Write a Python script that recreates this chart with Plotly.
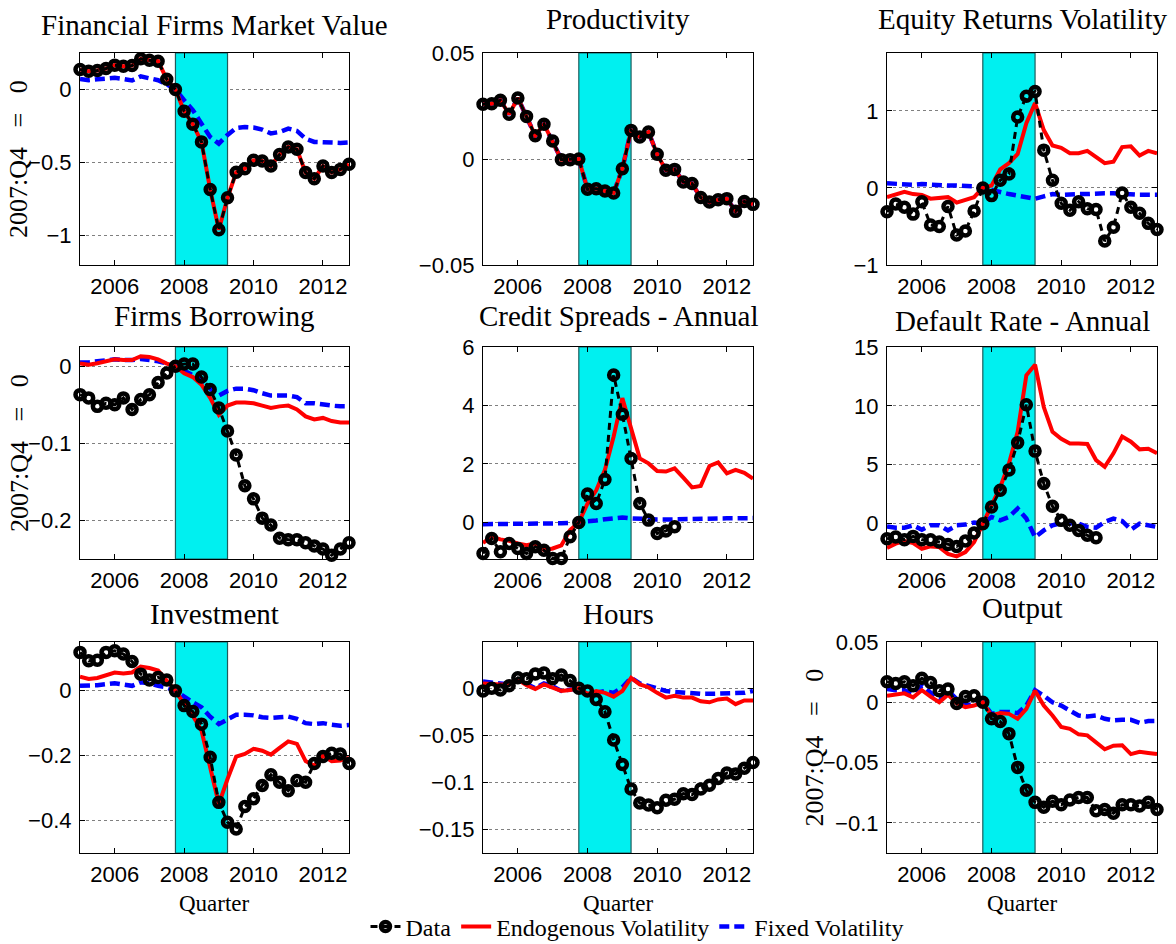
import plotly.graph_objects as go

# ---------------- data ----------------
quarters = [2005.0, 2005.25, 2005.5, 2005.75, 2006.0, 2006.25, 2006.5, 2006.75,
            2007.0, 2007.25, 2007.5, 2007.75, 2008.0, 2008.25, 2008.5, 2008.75,
            2009.0, 2009.25, 2009.5, 2009.75, 2010.0, 2010.25, 2010.5, 2010.75,
            2011.0, 2011.25, 2011.5, 2011.75, 2012.0, 2012.25, 2012.5, 2012.75]

recession_start = 2007.75
recession_end = 2009.25

fin_data = [0.137, 0.126, 0.13, 0.144, 0.167, 0.16, 0.164, 0.21, 0.2, 0.194, 0.07, 0.0,
            -0.148, -0.237, -0.358, -0.683, -0.959, -0.74, -0.566, -0.541, -0.484, -0.489,
            -0.523, -0.445, -0.393, -0.409, -0.568, -0.61, -0.523, -0.568, -0.546, -0.511]
fin_endo = list(fin_data)
fin_fixed = [0.073, 0.064, 0.07, 0.075, 0.08, 0.072, 0.062, 0.09, 0.08, 0.064, 0.036, 0.0,
             -0.073, -0.14, -0.233, -0.324, -0.37, -0.31, -0.263, -0.256, -0.26, -0.274,
             -0.3, -0.29, -0.267, -0.283, -0.336, -0.358, -0.36, -0.365, -0.365, -0.362]

prod_data = [0.0258, 0.0261, 0.0277, 0.0211, 0.0288, 0.0201, 0.011, 0.0164, 0.0085, -0.0003,
             -0.0003, 0.0, -0.0143, -0.014, -0.0151, -0.016, -0.0046, 0.0135, 0.0104, 0.0127,
             0.0022, -0.0053, -0.0049, -0.0108, -0.0116, -0.0182, -0.0203, -0.0192, -0.0187,
             -0.0247, -0.02, -0.0214]
prod_endo = list(prod_data)
prod_fixed = list(prod_data)

eqv_data = [-0.31, -0.21, -0.25, -0.34, -0.18, -0.48, -0.5, -0.24, -0.61, -0.56, -0.3, 0.0,
            -0.1, 0.1, 0.18, 0.92, 1.19, 1.25, 0.49, 0.1, -0.2, -0.29, -0.18, -0.27, -0.28,
            -0.69, -0.51, -0.065, -0.25, -0.33, -0.46, -0.54]
eqv_endo = [-0.12, -0.08, -0.05, -0.08, -0.09, -0.14, -0.13, -0.12, -0.19, -0.16, -0.12, 0.0,
            0.03, 0.24, 0.32, 0.44, 0.84, 1.1, 0.75, 0.55, 0.52, 0.45, 0.45, 0.48, 0.4, 0.32,
            0.34, 0.53, 0.54, 0.42, 0.48, 0.45]
eqv_fixed = [0.06, 0.05, 0.05, 0.04, 0.05, 0.04, 0.04, 0.03, 0.03, 0.03, 0.02, 0.0, -0.03,
             -0.06, -0.08, -0.1, -0.12, -0.14, -0.11, -0.08, -0.09, -0.08, -0.08, -0.08, -0.07,
             -0.07, -0.07, -0.08, -0.08, -0.09, -0.09, -0.09]

bor_data = [-0.0368, -0.041, -0.052, -0.048, -0.05, -0.041, -0.056, -0.043, -0.037, -0.021,
            -0.0087, 0.0, 0.003, 0.003, -0.014, -0.03, -0.054, -0.084, -0.115, -0.155, -0.172,
            -0.197, -0.206, -0.223, -0.225, -0.225, -0.229, -0.233, -0.237, -0.245, -0.237, -0.229]
bor_endo = [0.0035, 0.002, 0.004, 0.006, 0.009, 0.008, 0.008, 0.013, 0.012, 0.009, 0.0035, 0.0,
            -0.009, -0.014, -0.024, -0.041, -0.063, -0.051, -0.047, -0.047, -0.048, -0.051,
            -0.054, -0.052, -0.051, -0.056, -0.065, -0.069, -0.067, -0.071, -0.073, -0.073]
bor_fixed = [0.005, 0.005, 0.0065, 0.008, 0.009, 0.008, 0.008, 0.0095, 0.008, 0.0065, 0.0035,
             0.0, -0.0056, -0.012, -0.018, -0.029, -0.038, -0.032, -0.029, -0.029, -0.031,
             -0.035, -0.038, -0.038, -0.038, -0.04, -0.048, -0.048, -0.05, -0.051, -0.052, -0.052]

cs_data = [-1.06, -0.55, -1.0, -0.72, -0.89, -1.06, -0.83, -0.95, -1.23, -1.23, -0.49, 0.0,
           0.97, 0.65, 1.47, 5.04, 3.7, 2.19, 0.65, 0.08, -0.38, -0.29, -0.15,
           None, None, None, None, None, None, None, None, None]
cs_endo = [-0.70, -0.49, -0.58, -0.63, -0.72, -0.78, -0.72, -0.95, -0.89, -0.78, -0.26, 0.0,
           0.65, 1.1, 1.8, 2.94, 4.25, 3.17, 2.19, 2.02, 1.76, 1.74, 1.85, 1.53, 1.2, 1.25,
           1.93, 2.05, 1.68, 1.8, 1.7, 1.5]
cs_fixed = [-0.06, -0.06, -0.06, -0.05, -0.05, -0.05, -0.05, -0.04, -0.04, -0.03, -0.02, 0.0,
            0.03, 0.07, 0.11, 0.15, 0.17, 0.14, 0.12, 0.1, 0.1, 0.1, 0.11, 0.12, 0.12, 0.13,
            0.13, 0.14, 0.14, 0.14, 0.15, 0.15]

dr_data = [-1.28, -1.14, -1.36, -1.08, -1.36, -1.36, -1.56, -1.76, -1.93, -1.48, -0.8, 0.0,
           1.42, 2.84, 4.55, 6.88, 10.1, 6.16, 3.41, 1.48, 0.28, -0.14, -0.57, -0.99, -1.19,
           None, None, None, None, None, None, None]
dr_endo = [-2.07, -1.7, -1.48, -1.65, -2.13, -1.93, -1.99, -2.56, -2.78, -2.41, -1.56, 0.0,
           1.7, 3.1, 5.1, 7.8, 12.6, 13.5, 9.9, 7.8, 7.2, 6.8, 6.8, 6.76, 5.4, 4.83, 5.97,
           7.39, 6.96, 6.31, 6.36, 5.97]
dr_fixed = [-0.23, -0.34, -0.34, -0.14, -0.51, -0.14, -0.14, -0.57, -0.14, -0.08, 0.1, 0.0,
            0.57, 0.28, 0.57, 1.28, 0.43, -1.14, -0.57, -0.14, 0.06, 0.06, 0.0, -0.28, -0.34,
            0.14, 0.43, 0.23, -0.51, 0.0, -0.14, -0.28]

inv_data = [0.118, 0.092, 0.094, 0.118, 0.123, 0.113, 0.09, 0.051, 0.033, 0.041, 0.033, 0.0,
            -0.046, -0.064, -0.103, -0.205, -0.344, -0.405, -0.426, -0.357, -0.333, -0.292,
            -0.259, -0.282, -0.308, -0.277, -0.282, -0.224, -0.203, -0.193, -0.195, -0.224]
inv_endo = [0.043, 0.036, 0.039, 0.046, 0.056, 0.053, 0.056, 0.074, 0.07, 0.062, 0.033, 0.0,
            -0.041, -0.077, -0.123, -0.236, -0.349, -0.272, -0.203, -0.195, -0.179, -0.185,
            -0.197, -0.176, -0.156, -0.164, -0.217, -0.231, -0.2, -0.217, -0.215, -0.207]
inv_fixed = [0.015, 0.015, 0.017, 0.02, 0.023, 0.019, 0.015, 0.026, 0.023, 0.015, 0.01, 0.0,
             -0.02, -0.036, -0.051, -0.08, -0.103, -0.087, -0.074, -0.074, -0.076, -0.082,
             -0.084, -0.082, -0.08, -0.087, -0.1, -0.103, -0.1, -0.105, -0.108, -0.106]

hrs_data = [-0.003, 0.0, -0.002, 0.0025, 0.011, 0.01, 0.015, 0.016, 0.01, 0.014, 0.008, 0.0,
            -0.003, -0.012, -0.025, -0.055, -0.081, -0.107, -0.122, -0.124, -0.127, -0.119,
            -0.118, -0.112, -0.113, -0.107, -0.103, -0.096, -0.09, -0.091, -0.085, -0.079]
hrs_endo = [0.005, 0.004, 0.004, 0.004, 0.009, 0.003, -0.001, 0.004, 0.001, -0.003, -0.002, 0.0,
            -0.006, -0.003, -0.005, -0.009, -0.003, 0.011, 0.004, 0.001, -0.005, -0.01, -0.008,
            -0.01, -0.01, -0.014, -0.015, -0.012, -0.011, -0.017, -0.013, -0.013]
hrs_fixed = [0.007, 0.006, 0.005, 0.004, 0.009, 0.004, 0.0, 0.005, 0.002, -0.003, -0.001, 0.0,
             -0.007, -0.005, -0.003, -0.005, 0.001, 0.011, 0.005, 0.0025, 0.0, -0.003, -0.004,
             -0.005, -0.005, -0.006, -0.006, -0.006, -0.005, -0.005, -0.005, -0.003]

out_data = [0.017, 0.0156, 0.017, 0.0137, 0.02, 0.0164, 0.0096, 0.011, -0.001, 0.0047, 0.0055,
            0.0, -0.0137, -0.0159, -0.026, -0.054, -0.073, -0.083, -0.087, -0.082, -0.085,
            -0.081, -0.079, -0.079, -0.09, -0.089, -0.092, -0.085, -0.085, -0.086, -0.083, -0.089]
out_endo = [0.0055, 0.0063, 0.0074, 0.0041, 0.01, 0.0047, 0.0, 0.0063, -0.0008, -0.004, -0.0027,
            0.0, -0.011, -0.009, -0.0096, -0.0137, -0.0055, 0.0096, -0.0027, -0.011, -0.0205,
            -0.022, -0.0266, -0.0274, -0.033, -0.039, -0.036, -0.0356, -0.043, -0.041, -0.042, -0.043]
out_fixed = [0.011, 0.01, 0.01, 0.007, 0.0137, 0.008, 0.0036, 0.0096, 0.0027, -0.0027, -0.0014,
             0.0, -0.0096, -0.008, -0.008, -0.009, -0.0027, 0.01, 0.0055, 0.0, -0.0027, -0.0068,
             -0.011, -0.0118, -0.011, -0.0137, -0.015, -0.0145, -0.0145, -0.017, -0.0156, -0.0156]

titles = ["Financial Firms Market Value", "Productivity", "Equity Returns Volatility",
          "Firms Borrowing", "Credit Spreads - Annual", "Default Rate - Annual",
          "Investment", "Hours", "Output"]
x_ticks = [2006, 2008, 2010, 2012]
y_ticks = [[-1, -0.5, 0], [-0.05, 0, 0.05], [-1, 0, 1],
           [-0.2, -0.1, 0], [0, 2, 4, 6], [0, 5, 10, 15],
           [-0.4, -0.2, 0], [-0.15, -0.1, -0.05, 0], [-0.1, -0.05, 0, 0.05]]
y_ranges = [[-1.2, 0.25], [-0.05, 0.05], [-1, 1.75],
            [-0.25, 0.025], [-1.25, 6], [-3, 15],
            [-0.5, 0.15], [-0.175, 0.049], [-0.125, 0.05]]
series = [(fin_data, fin_endo, fin_fixed), (prod_data, prod_endo, prod_fixed),
          (eqv_data, eqv_endo, eqv_fixed), (bor_data, bor_endo, bor_fixed),
          (cs_data, cs_endo, cs_fixed), (dr_data, dr_endo, dr_fixed),
          (inv_data, inv_endo, inv_fixed), (hrs_data, hrs_endo, hrs_fixed),
          (out_data, out_endo, out_fixed)]
ylabel_panels = [0, 3, 8]
ylabel_text = "2007:Q4 \u2002=\u2002 0"

# ---------------- layout geometry (pixels) ----------------
W, H = 1176, 944
col_px = [(80, 349), (483, 753), (887, 1157)]
row_px = [(53, 265), (347, 559), (642, 853)]
title_y_px = [25, 19, 19, 316, 316, 321, 614, 614, 608]
ylabel_x_px = [19, 19, 814]

SERIF = "Liberation Serif, Times New Roman, serif"
SANS = "Liberation Sans Narrow, Arial Narrow, Liberation Sans, Arial, sans-serif"
TICK_SIZE = 22


def fx(p):
    return p / W


def fy(p):
    return 1 - p / H


fig = go.Figure()
annotations = []
layout_axes = {}

for k in range(9):
    r, c = divmod(k, 3)
    n = "" if k == 0 else str(k + 1)
    xa, ya = "x" + n, "y" + n
    d, e, f = series[k]
    leg = (k == 0)
    lo, hi = y_ranges[k]
    # recession band (2007:Q4 - 2009:Q2)
    fig.add_trace(go.Scatter(
        x=[recession_start, recession_start, recession_end, recession_end, recession_start],
        y=[lo, hi, hi, lo, lo], mode="lines", fill="toself", fillcolor="#00F0F0",
        line=dict(color="#1F5C5C", width=1.2), xaxis=xa, yaxis=ya,
        showlegend=False, hoverinfo="skip"))
    fig.add_trace(go.Scatter(x=quarters, y=f, mode="lines", name="Fixed Volatility",
                             line=dict(color="#0000FF", width=4.5, dash="10px,5px"),
                             xaxis=xa, yaxis=ya, showlegend=leg, legendrank=3,
                             cliponaxis=False))
    fig.add_trace(go.Scatter(x=quarters, y=e, mode="lines", name="Endogenous Volatility",
                             line=dict(color="#FF0000", width=4),
                             xaxis=xa, yaxis=ya, showlegend=leg, legendrank=2,
                             cliponaxis=False))
    fig.add_trace(go.Scatter(x=quarters, y=d, mode="lines+markers", name="Data",
                             line=dict(color="black", width=3, dash="7px,5px"),
                             marker=dict(symbol="circle-open", size=9, color="black",
                                         line=dict(color="black", width=4.5)),
                             connectgaps=False,
                             xaxis=xa, yaxis=ya, showlegend=leg, legendrank=1,
                             cliponaxis=False))

    x0, x1 = col_px[c]
    y0, y1 = row_px[r]
    layout_axes["xaxis" + n] = dict(
        domain=[fx(x0), fx(x1)], anchor=ya, range=[quarters[0], quarters[-1]],
        tickvals=x_ticks, ticks="inside", ticklen=5, tickcolor="black",
        showline=True, linecolor="black", linewidth=1.2, mirror="ticks",
        showgrid=False, zeroline=False, ticklabelstandoff=1,
        tickfont=dict(family=SANS, size=TICK_SIZE, color="black"))
    layout_axes["yaxis" + n] = dict(
        domain=[fy(y1), fy(y0)], anchor=xa, range=y_ranges[k],
        tickvals=y_ticks[k], ticks="inside", ticklen=5, tickcolor="black",
        showline=True, linecolor="black", linewidth=1.2, mirror="ticks",
        showgrid=True, gridcolor="#808080", griddash="dot", gridwidth=1,
        zeroline=False, ticklabelstandoff=3,
        tickfont=dict(family=SANS, size=TICK_SIZE, color="black"))

    annotations.append(dict(text=titles[k], x=fx((x0 + x1) / 2), y=fy(title_y_px[k]),
                            xref="paper", yref="paper", xanchor="center", yanchor="middle",
                            showarrow=False, font=dict(family=SERIF, size=29, color="black")))
    if r == 2:
        annotations.append(dict(text="Quarter", x=fx((x0 + x1) / 2), y=fy(903),
                                xref="paper", yref="paper", xanchor="center",
                                yanchor="middle", showarrow=False,
                                font=dict(family=SERIF, size=23, color="black")))

for k, xp in zip(ylabel_panels, ylabel_x_px):
    r, c = divmod(k, 3)
    y0, y1 = row_px[r]
    annotations.append(dict(text=ylabel_text, x=fx(xp), y=fy((y0 + y1) / 2),
                            xref="paper", yref="paper", xanchor="center", yanchor="middle",
                            textangle=-90, showarrow=False,
                            font=dict(family=SERIF, size=26, color="black")))

fig.update_layout(
    width=W, height=H,
    margin=dict(l=0, r=0, t=0, b=0, pad=0, autoexpand=False),
    paper_bgcolor="white", plot_bgcolor="white",
    showlegend=True,
    legend=dict(orientation="h", x=fx(637), xanchor="center", y=fy(927), yanchor="middle",
                font=dict(family=SERIF, size=24, color="black"),
                bgcolor="rgba(255,255,255,0)", itemwidth=30, tracegroupgap=0),
    annotations=annotations,
    **layout_axes,
)

fig.write_html("out.html", config={"displayModeBar": False},
               post_script="document.body.style.margin='0';")
